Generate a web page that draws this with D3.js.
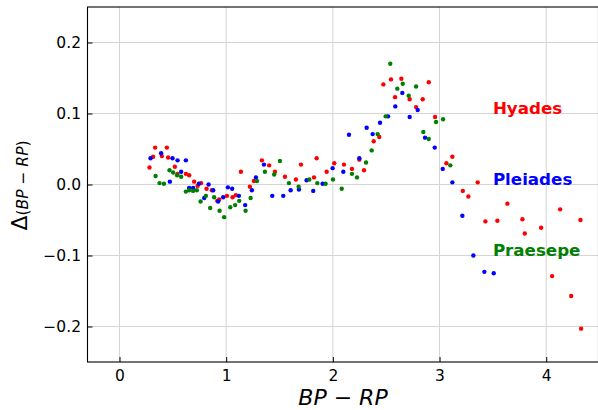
<!DOCTYPE html>
<html lang="en">
<head>
<meta charset="UTF-8">
<script src="https://cdn.jsdelivr.net/npm/d3@7/dist/d3.min.js"></script>
<style>
  body { margin: 0; background: #fff; }
  svg { display: block; font-family: "DejaVu Sans", sans-serif; }
</style>
</head>
<body>
<script>
// colour index BP-RP and residual Delta(BP-RP) per cluster
var hyadesBpRp = [0.281, 0.315, 0.334, 0.397, 0.444, 0.456, 0.519, 0.544, 0.622, 0.653, 0.700, 0.732, 0.765, 0.816, 0.866, 0.916, 0.934, 1.007, 1.060, 1.091, 1.138, 1.222, 1.260, 1.335, 1.403, 1.457, 1.551, 1.654, 1.701, 1.823, 1.848, 1.942, 2.013, 2.104, 2.179, 2.248, 2.292, 2.383, 2.435, 2.473, 2.545, 2.583, 2.642, 2.720, 2.780, 2.842, 2.899, 2.958, 3.064, 3.120, 3.218, 3.270, 3.358, 3.430, 3.542, 3.636, 3.777, 3.799, 3.952, 4.055, 4.130, 4.234, 4.321, 4.327];
var hyadesDelta = [0.024, 0.039, 0.052, 0.040, 0.052, 0.038, 0.025, 0.015, 0.015, 0.013, 0.004, -0.002, 0.002, -0.006, -0.008, -0.023, -0.021, -0.016, -0.018, -0.015, 0.018, -0.003, 0.005, 0.034, 0.027, 0.018, 0.011, 0.007, 0.028, 0.010, 0.037, 0.018, 0.030, 0.028, 0.022, 0.035, 0.020, 0.061, 0.067, 0.141, 0.148, 0.123, 0.149, 0.120, 0.109, 0.120, 0.144, 0.095, 0.030, 0.039, -0.009, -0.017, 0.003, -0.052, -0.051, -0.027, -0.049, -0.069, -0.061, -0.129, -0.035, -0.157, -0.050, -0.203];

var pleiadesBpRp = [0.291, 0.390, 0.472, 0.497, 0.544, 0.578, 0.622, 0.653, 0.690, 0.744, 0.794, 0.835, 0.878, 0.925, 0.972, 1.016, 1.056, 1.119, 1.178, 1.241, 1.279, 1.354, 1.432, 1.535, 1.604, 1.682, 1.754, 1.816, 1.904, 1.998, 2.098, 2.151, 2.248, 2.317, 2.373, 2.442, 2.517, 2.585, 2.651, 2.720, 2.795, 2.864, 2.955, 3.030, 3.120, 3.214, 3.317, 3.420, 3.508];
var pleiadesDelta = [0.037, 0.044, 0.004, 0.037, 0.034, 0.018, 0.034, -0.005, -0.005, 0.001, -0.019, 0.000, -0.008, -0.024, -0.018, -0.004, -0.006, -0.016, -0.029, -0.008, 0.010, 0.028, -0.016, -0.016, -0.008, -0.007, 0.006, -0.009, 0.001, 0.023, 0.018, 0.070, 0.037, 0.080, 0.071, 0.087, 0.096, 0.110, 0.129, 0.095, 0.105, 0.066, 0.052, 0.022, 0.003, -0.044, -0.100, -0.123, -0.125];

var praesepeBpRp = [0.338, 0.375, 0.416, 0.469, 0.503, 0.540, 0.578, 0.622, 0.653, 0.690, 0.725, 0.760, 0.810, 0.850, 0.887, 0.938, 0.981, 1.038, 1.084, 1.122, 1.182, 1.229, 1.288, 1.363, 1.450, 1.504, 1.588, 1.679, 1.779, 1.854, 1.932, 2.001, 2.083, 2.179, 2.226, 2.311, 2.364, 2.420, 2.495, 2.538, 2.604, 2.655, 2.711, 2.780, 2.848, 2.899, 2.967, 3.033, 3.101];
var praesepeDelta = [0.012, 0.002, 0.001, 0.020, 0.017, 0.013, 0.011, -0.010, -0.008, -0.009, -0.008, -0.024, -0.016, -0.033, -0.018, -0.037, -0.046, -0.032, -0.029, -0.023, -0.037, -0.019, 0.005, 0.018, 0.014, 0.033, 0.002, -0.003, 0.007, 0.002, 0.001, 0.007, -0.006, 0.015, 0.010, 0.031, 0.048, 0.071, 0.096, 0.170, 0.135, 0.142, 0.125, 0.138, 0.074, 0.064, 0.088, 0.092, 0.027];

var clusterNames = ["Hyades", "Pleiades", "Praesepe"];
var clusterColors = ["#ff0000", "#0000ff", "#008000"];
var xTicks = [0, 1, 2, 3, 4];
var yTicks = [-0.2, -0.1, 0.0, 0.1, 0.2];

var W = 598, H = 410;
var margin = {left: 87.5, right: -0.5, top: 7, bottom: 48};

var svg = d3.select("body").append("svg")
    .attr("width", W)
    .attr("height", H);

var x = d3.scaleLinear()
    .domain([-0.3, 4.49])
    .range([margin.left, W - margin.right]);

var y = d3.scaleLinear()
    .domain([-0.25, 0.25])
    .range([H - margin.bottom, margin.top]);

// grid
svg.append("g").selectAll("line")
    .data(xTicks).enter().append("line")
    .attr("x1", function(d){ return x(d); })
    .attr("x2", function(d){ return x(d); })
    .attr("y1", y(-0.25)).attr("y2", y(0.25))
    .style("stroke", "#d4d4d4").style("stroke-width", 1);

svg.append("g").selectAll("line")
    .data(yTicks).enter().append("line")
    .attr("y1", function(d){ return y(d); })
    .attr("y2", function(d){ return y(d); })
    .attr("x1", x(-0.3)).attr("x2", x(4.49))
    .style("stroke", "#d4d4d4").style("stroke-width", 1);

// points
var series = [
    {bp: hyadesBpRp, delta: hyadesDelta},
    {bp: pleiadesBpRp, delta: pleiadesDelta},
    {bp: praesepeBpRp, delta: praesepeDelta}
];

series.forEach(function(s, i) {
    svg.append("g").selectAll("circle")
        .data(s.bp).enter().append("circle")
        .attr("cx", function(d){ return x(d); })
        .attr("cy", function(d, j){ return y(s.delta[j]); })
        .attr("r", 2.2)
        .style("fill", clusterColors[i]);
});

// axes, ticks pointing inwards
var xAxis = d3.axisBottom(x).tickValues(xTicks).tickFormat(d3.format("d"))
    .tickSizeInner(-5).tickSizeOuter(0).tickPadding(8);
var yAxis = d3.axisLeft(y).tickValues(yTicks).tickFormat(d3.format(".1f"))
    .tickSizeInner(-5).tickSizeOuter(0).tickPadding(6.5);

var gx = svg.append("g")
    .attr("transform", "translate(0," + y(-0.25) + ")")
    .call(xAxis);
var gy = svg.append("g")
    .attr("transform", "translate(" + x(-0.3) + ",0)")
    .call(yAxis);

[gx, gy].forEach(function(g) {
    g.selectAll("text").style("font-size", "15.5px").style("fill", "#000")
        .style("font-family", "DejaVu Sans");
    g.selectAll(".tick line").style("stroke", "#000").style("stroke-width", 1);
    g.select(".domain").remove();
});

// frame
svg.append("rect")
    .attr("x", x(-0.3)).attr("y", y(0.25))
    .attr("width", x(4.49) - x(-0.3))
    .attr("height", y(-0.25) - y(0.25))
    .style("fill", "none").style("stroke", "#000").style("stroke-width", 1.1);

// cluster names
var labelY = [0.1, 0.0, -0.1];
svg.append("g").selectAll("text")
    .data(clusterNames).enter().append("text")
    .attr("x", x(3.5))
    .attr("y", function(d, i){ return y(labelY[i]); })
    .style("font-size", "16.7px").style("font-weight", "bold")
    .style("fill", function(d, i){ return clusterColors[i]; })
    .text(function(d){ return d; });

// axis labels
var xl = svg.append("text")
    .attr("x", (x(-0.3) + x(4.49)) / 2)
    .attr("y", 405)
    .attr("text-anchor", "middle")
    .style("font-size", "22px");
xl.append("tspan").style("font-style", "italic").text("BP");
xl.append("tspan").text(" \u2212 ");
xl.append("tspan").style("font-style", "italic").text("RP");

var yl = svg.append("text")
    .attr("transform", "translate(26.5," + (y(0) + 1) + ") rotate(-90)")
    .attr("text-anchor", "middle")
    .style("font-size", "22px");
yl.append("tspan").text("\u0394");
yl.append("tspan").attr("dy", 1.5).style("font-size", "15.5px").text("(");
yl.append("tspan").style("font-size", "15.5px").style("font-style", "italic").text("BP");
yl.append("tspan").style("font-size", "15.5px").text(" \u2212 ");
yl.append("tspan").style("font-size", "15.5px").style("font-style", "italic").text("RP");
yl.append("tspan").style("font-size", "15.5px").text(")");
</script>
</body>
</html>
